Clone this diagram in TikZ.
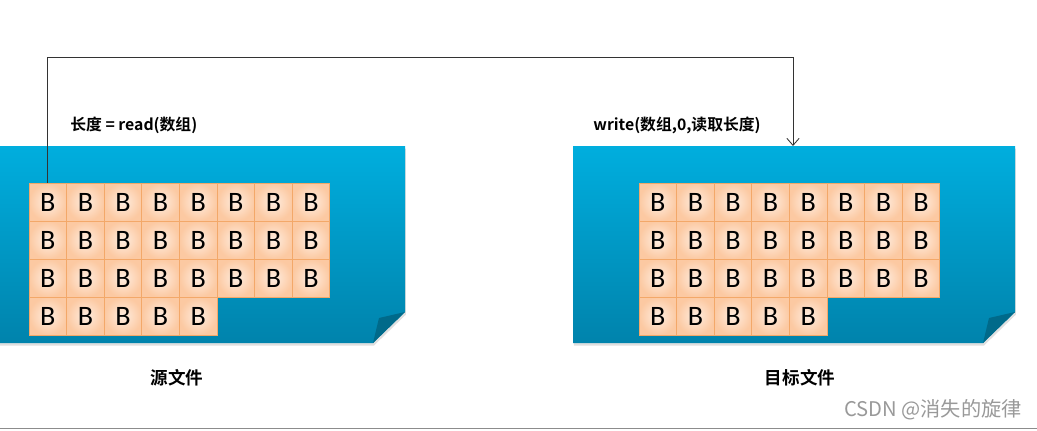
\documentclass[tikz,border=0pt]{standalone}
\usepackage{fontspec}
\setmainfont{Carlito}
\newfontfamily\cjk{Noto Sans CJK SC}[BoldFont={Noto Sans CJK SC Bold}]
\usetikzlibrary{arrows.meta,shadows}

\definecolor{sheettop}{HTML}{00AEDE}
\definecolor{sheetbot}{HTML}{0083AC}
\definecolor{foldcol}{HTML}{006A8A}
\definecolor{cellin}{HTML}{FEEDE0}
\definecolor{cellout}{HTML}{FCC9A2}
\definecolor{celledge}{HTML}{F3A869}

\tikzset{
  sheet/.style={top color=sheettop, bottom color=sheetbot,
    drop shadow={opacity=0.25, shadow xshift=0.5pt, shadow yshift=-1.5pt}},
  cell/.style={draw=celledge, line width=0.5pt, inner sep=0pt,
    minimum width=0.752cm, minimum height=0.76cm,
    inner color=cellin, outer color=cellout,
    font=\fontsize{16}{16}\selectfont},
  call/.style={font=\cjk\bfseries\fontsize{9}{10}\selectfont, inner sep=0pt},
  title/.style={font=\cjk\bfseries\fontsize{10}{11}\selectfont, inner sep=0pt},
  link/.style={draw=black!80, line width=0.5pt, -{Straight Barb[length=4pt,width=7pt]}}
}

\begin{document}
\begin{tikzpicture}[x=0.02cm,y=-0.02cm]
      \useasboundingbox (0,0) rectangle (1037,430);
      \clip (0,0) rectangle (1037,430);
      % sheets
      \path[sheet] (-20,146) -- (405,146) -- (405,312) -- (373,343) -- (-20,343) -- cycle;
      \fill[foldcol] (405,312) -- (373,343) -- (379,318) -- cycle;
      \path[sheet] (573,146) -- (1015,146) -- (1015,312) -- (983,343) -- (573,343) -- cycle;
      \fill[foldcol] (1015,312) -- (983,343) -- (989,318) -- cycle;
      % bytes
      \foreach \r/\n in {1/8,2/8,3/8,4/5}
        \foreach \c in {1,...,\n} {
          \node[cell] (s-\r-\c) at ({29+37.6*(\c-0.5)},{183+38*(\r-0.5)}) {B};
          \node[cell] (t-\r-\c) at ({639+37.6*(\c-0.5)},{183+38*(\r-0.5)}) {B};
        }
      % labels
      \node[call, anchor=west] (rd) at (70,125) {长度 = read(数组)};
      \node[call, anchor=west] (wr) at (593,125) {write(数组,0,读取长度)};
      \node[title] (src) at (177,378) {源文件};
      \node[title] (dst) at (800,378) {目标文件};
      \node[font=\cjk\fontsize{11.5}{12}\selectfont, text=black!40, anchor=east, inner sep=0pt]
        (mark) at (1022,410) {CSDN @消失的旋律};
      % copy
      \coordinate (top) at (0,57);
      \coordinate (tgt) at (793,146);
      \draw[link] (s-1-1.north) -- (s-1-1.north |- top) -| (tgt);
      \draw[black!45, line width=1pt] (0,428.5) -- (1037,428.5);
    \end{tikzpicture}
\end{document}
